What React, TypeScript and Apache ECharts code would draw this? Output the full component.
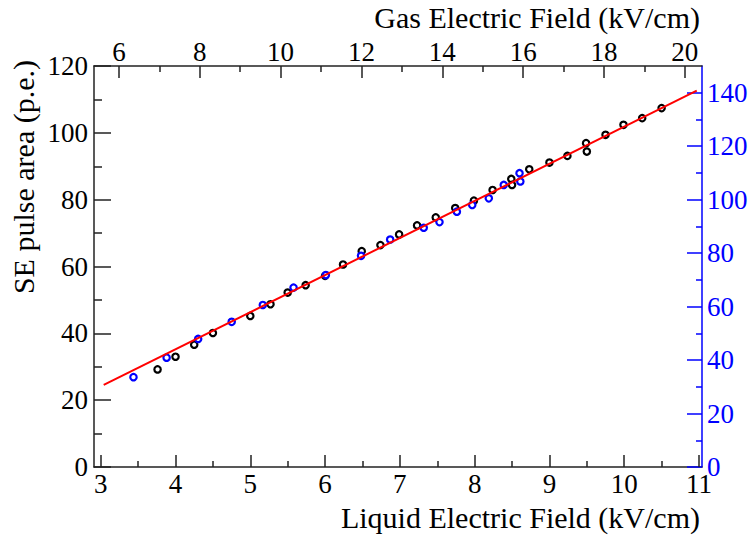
import React, { useEffect, useRef } from "react";
import * as echarts from "echarts";

// Liquid electric field (kV/cm) and SE pulse area (p.e.) — black points
const liquidField = [3.76, 4.0, 4.25, 4.5, 5.0, 5.27, 5.5, 5.74, 6.0, 6.24, 6.49, 6.74, 6.99, 7.23, 7.48, 7.74, 7.99, 8.24, 8.49, 8.5, 8.73, 9.0, 9.24, 9.49, 9.5, 9.75, 9.99, 10.24, 10.5];
const liquidSE = [29.2, 33.0, 36.6, 40.1, 45.2, 48.7, 52.2, 54.4, 57.2, 60.6, 64.6, 66.4, 69.6, 72.3, 74.7, 77.5, 79.7, 82.9, 86.2, 84.4, 89.1, 91.1, 93.1, 96.9, 94.4, 99.4, 102.4, 104.4, 107.4];

// Gas electric field (kV/cm) and SE pulse area on right axis — blue points
const gasField = [6.36, 7.18, 7.96, 8.79, 9.56, 10.32, 11.12, 11.99, 12.71, 13.54, 13.93, 14.36, 14.74, 15.15, 15.52, 15.91, 15.93];
const gasSE = [33.6, 40.9, 47.9, 54.3, 60.6, 67.1, 71.8, 79.0, 85.1, 89.5, 91.6, 95.5, 98.0, 100.5, 105.5, 109.9, 106.8];

// Linear fit line end points (liquid field, SE area)
const fitX = [3.04, 10.97];
const fitY = [24.6, 112.6];

const SE_ERR = 1.0;

// Tick values
const liquidTicks = [3, 4, 5, 6, 7, 8, 9, 10, 11];
const liquidMinor = [3.5, 4.5, 5.5, 6.5, 7.5, 8.5, 9.5, 10.5];
const gasTicks = [6, 8, 10, 12, 14, 16, 18, 20];
const gasMinor = [7, 9, 11, 13, 15, 17, 19];
const leftTicks = [0, 20, 40, 60, 80, 100, 120];
const leftMinor = [10, 30, 50, 70, 90, 110];
const rightTicks = [0, 20, 40, 60, 80, 100, 120, 140];
const rightMinor = [10, 30, 50, 70, 90, 110, 130];

const xTitle = "Liquid Electric Field (kV/cm)";
const x2Title = "Gas Electric Field (kV/cm)";
const yTitle = "SE pulse area (p.e.)";

const FONT = "Liberation Serif";
const AXIS = "#222";
const BLUE = "#0000ff";

export default function App() {
  const ref = useRef<HTMLDivElement>(null);
  useEffect(() => {
    if (!ref.current) return;
    const chart = echarts.init(ref.current, null, { renderer: "svg" });

    const mkAxis = (o: {
      pos: string; min: number; max: number; ticks: number[]; len: number;
      color: string; line: boolean;
    }) => ({
      type: "value",
      position: o.pos,
      min: o.min,
      max: o.max,
      axisLine: { show: o.line, onZero: false, lineStyle: { color: o.color, width: 1.5 } },
      axisTick: { show: true, inside: true, length: o.len, customValues: o.ticks, lineStyle: { color: o.color, width: 1.5 } },
      axisLabel: { show: false },
      splitLine: { show: false },
    });

    const errBar = (color: string) => (params: any, api: any) => {
      const x = api.value(0);
      const y = api.value(1);
      const e = api.value(2);
      const p1 = api.coord([x, y + e]);
      const p2 = api.coord([x, y - e]);
      const c = api.coord([x, y]);
      return {
        type: "group",
        children: [
          {
            type: "line",
            shape: { x1: p1[0], y1: p1[1], x2: p2[0], y2: p2[1] },
            style: { stroke: color, lineWidth: 1.5 },
          },
          {
            type: "circle",
            shape: { cx: c[0], cy: c[1], r: 3.2 },
            style: { fill: "#fff", stroke: color, lineWidth: 2.2 },
          },
        ],
      };
    };

    const option: any = {
      animation: false,
      backgroundColor: "#fff",
      grid: { left: 94, right: 52, top: 66, bottom: 68, outerBoundsMode: "none", containLabel: false },
      xAxis: [
        mkAxis({ pos: "bottom", min: 2.91, max: 11.04, ticks: liquidTicks, len: 12, color: AXIS, line: true }),
        mkAxis({ pos: "top", min: 5.3835, max: 20.424, ticks: gasTicks, len: 12, color: AXIS, line: true }),
        mkAxis({ pos: "bottom", min: 2.91, max: 11.04, ticks: liquidMinor, len: 6, color: AXIS, line: false }),
        mkAxis({ pos: "top", min: 5.3835, max: 20.424, ticks: gasMinor, len: 6, color: AXIS, line: false }),
      ],
      yAxis: [
        mkAxis({ pos: "left", min: 0, max: 120, ticks: leftTicks, len: 17, color: AXIS, line: true }),
        mkAxis({ pos: "right", min: 0, max: 150, ticks: rightTicks, len: 15, color: BLUE, line: true }),
        mkAxis({ pos: "left", min: 0, max: 120, ticks: leftMinor, len: 8, color: AXIS, line: false }),
        mkAxis({ pos: "right", min: 0, max: 150, ticks: rightMinor, len: 6, color: BLUE, line: false }),
      ],
      series: [
        {
          type: "custom", xAxisIndex: 0, yAxisIndex: 0, z: 3,
          renderItem: errBar("#000"),
          data: liquidField.map((x, i) => [x, liquidSE[i], SE_ERR]),
        },
        {
          type: "custom", xAxisIndex: 1, yAxisIndex: 1, z: 3,
          renderItem: errBar(BLUE),
          data: gasField.map((x, i) => [x, gasSE[i], SE_ERR * 1.25]),
        },
        {
          type: "line", xAxisIndex: 0, yAxisIndex: 0, z: 5,
          symbol: "none",
          lineStyle: { color: "#ff0000", width: 2 },
          data: fitX.map((x, i) => [x, fitY[i]]),
        },
      ],
    };
    chart.setOption(option);

    // Tick labels placed through the axes' own scales
    const tickFont = `27px '${FONT}'`;
    const titleFont = `30px '${FONT}'`;
    const toX = (idx: number, v: number) => chart.convertToPixel({ xAxisIndex: idx } as any, v) as number;
    const toY = (idx: number, v: number) => chart.convertToPixel({ yAxisIndex: idx } as any, v) as number;
    const bottomY = toY(0, 0);
    const topY = toY(0, 120);
    const leftX = toX(0, 2.91);
    const rightX = toX(0, 11.04);

    const labels: any[] = [];
    liquidTicks.forEach((v) =>
      labels.push({
        type: "text", x: toX(0, v), y: bottomY + 17, z: 10,
        style: { text: String(v), font: tickFont, fill: "#000", align: "center", verticalAlign: "middle" },
      })
    );
    gasTicks.forEach((v) =>
      labels.push({
        type: "text", x: toX(1, v), y: topY - 14.5, z: 10,
        style: { text: String(v), font: tickFont, fill: "#000", align: "center", verticalAlign: "middle" },
      })
    );
    leftTicks.forEach((v) =>
      labels.push({
        type: "text", x: leftX - 6, y: toY(0, v), z: 10,
        style: { text: String(v), font: tickFont, fill: "#000", align: "right", verticalAlign: "middle" },
      })
    );
    rightTicks.forEach((v) =>
      labels.push({
        type: "text", x: rightX + 5, y: toY(1, v), z: 10,
        style: { text: String(v), font: tickFont, fill: BLUE, align: "left", verticalAlign: "middle" },
      })
    );
    labels.push(
      {
        type: "text", x: 700, y: 517,
        style: { text: xTitle, font: titleFont, fill: "#000", align: "right", verticalAlign: "middle" },
      },
      {
        type: "text", x: 700, y: 17,
        style: { text: x2Title, font: titleFont, fill: "#000", align: "right", verticalAlign: "middle" },
      },
      {
        type: "text", x: 23, y: 60, rotation: Math.PI / 2,
        style: { text: yTitle, font: titleFont, fill: "#000", align: "right", verticalAlign: "middle" },
      }
    );
    chart.setOption({ graphic: labels });
    return () => chart.dispose();
  }, []);
  return <div ref={ref} style={{ width: 754, height: 535, position: "absolute", left: 0, top: 0 }} />;
}
